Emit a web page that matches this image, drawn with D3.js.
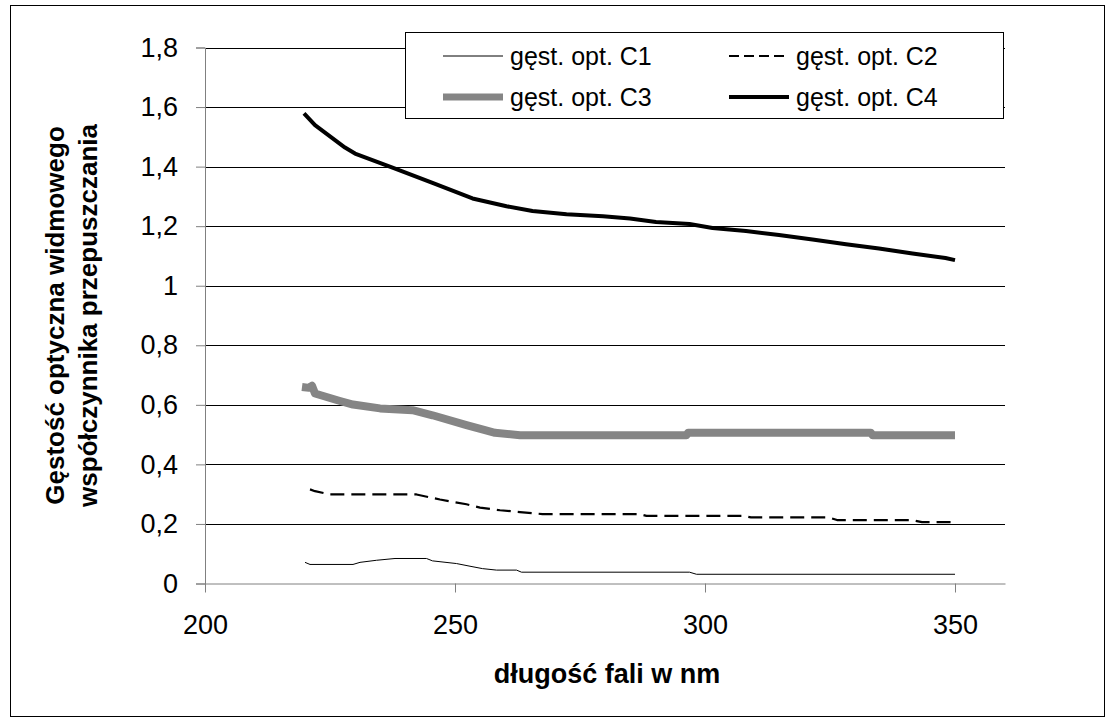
<!DOCTYPE html>
<html>
<head>
<meta charset="utf-8">
<script src="https://cdn.jsdelivr.net/npm/d3@7"></script>
<style>
  body { margin: 0; background: #fff; }
  text { font-family: "Liberation Sans", Arial, sans-serif; fill: #000; }
</style>
</head>
<body>
<div id="chart"></div>
<script>
(function () {
  const WIDTH = 1115;
  const HEIGHT = 726;

  // [długość fali, gęstość optyczna]
  const c1 = [[220,0.071],[221,0.064],[229.6,0.064],[231,0.071],[234.3,0.078],[238,0.084],[244.3,0.084],
    [245.5,0.076],[250.3,0.067],[253,0.058],[255.5,0.050],[258.3,0.045],[262.3,0.045],[263.3,0.038],
    [296.9,0.038],[298.3,0.031],[350,0.031]];
  const c2 = [[221,0.316],[222,0.310],[225,0.299],[242.3,0.299],[247,0.282],[252.3,0.266],[255,0.255],
    [259,0.246],[263,0.240],[267.5,0.233],[287,0.233],[288.3,0.227],[307.8,0.227],[309.2,0.222],
    [324.8,0.222],[326.4,0.213],[341.4,0.213],[343.4,0.206],[350,0.206]];
  const c3 = [[219.4,0.660],[220.8,0.657],[221.4,0.664],[222,0.638],[227,0.613],[229.6,0.601],[235,0.588],
    [241.5,0.582],[245.5,0.565],[252.3,0.532],[256,0.515],[258,0.506],[263,0.498],[296.3,0.498],
    [296.6,0.506],[333.2,0.506],[333.5,0.498],[350,0.498]];
  const c4 = [[219.8,1.579],[222,1.539],[228,1.464],[230,1.444],[237.5,1.397],[245.5,1.345],[253.5,1.293],
    [260.3,1.267],[265.5,1.251],[272.3,1.240],[279.6,1.233],[285,1.226],[290.2,1.214],[296.9,1.207],
    [301.5,1.194],[308.2,1.184],[314.8,1.170],[321.5,1.155],[328.2,1.139],[334.8,1.125],[341.5,1.108],
    [348.1,1.093],[350,1.086]];

  const xTicks = [200, 250, 300, 350];
  const yTicks = [0, 0.2, 0.4, 0.6, 0.8, 1, 1.2, 1.4, 1.6, 1.8];
  const seriesNames = ["gęst. opt. C1", "gęst. opt. C2", "gęst. opt. C3", "gęst. opt. C4"];

  // styl każdej serii
  const styles = [
    { stroke: "#000", width: 1, dash: null, legendDash: null },
    { stroke: "#000", width: 2.2, dash: "14,7", legendDash: "10,5" },
    { stroke: "#858585", width: 8, dash: null, legendDash: null },
    { stroke: "#000", width: 4, dash: null, legendDash: null }
  ];

  const margin = { left: 205, right: 110, top: 47.5, bottom: 142.5 };

  const x = d3.scaleLinear().domain([200, 360]).range([margin.left, WIDTH - margin.right]);
  const y = d3.scaleLinear().domain([0, 1.8]).range([HEIGHT - margin.bottom, margin.top]);

  const svg = d3.select("#chart").append("svg")
    .attr("width", WIDTH)
    .attr("height", HEIGHT);

  // ramka wykresu
  svg.append("rect")
    .attr("x", 10.5).attr("y", 5.5)
    .attr("width", 1094).attr("height", 711)
    .attr("fill", "#fff").attr("stroke", "#000").attr("stroke-width", 1);

  // linie siatki
  svg.append("g")
    .selectAll("line")
    .data(yTicks.filter(d => d > 0))
    .join("line")
    .attr("x1", x(200)).attr("x2", x(360))
    .attr("y1", d => Math.round(y(d)) + 0.5).attr("y2", d => Math.round(y(d)) + 0.5)
    .attr("stroke", "#000").attr("stroke-width", 1);

  // oś Y
  const yAxis = svg.append("g")
    .attr("transform", `translate(${x(200)},0)`)
    .call(d3.axisLeft(y).tickValues(yTicks).tickSize(9).tickPadding(18)
      .tickFormat(d => d3.format("")(+d.toFixed(1)).replace(".", ",")));
  yAxis.select(".domain").attr("stroke", "#808080");
  yAxis.selectAll(".tick line").attr("stroke", "#808080");
  yAxis.selectAll(".tick text")
    .style("font-size", "27px")
    .attr("fill", "#000");

  // oś X
  const xAxis = svg.append("g")
    .attr("transform", `translate(0,${y(0)})`)
    .call(d3.axisBottom(x).tickValues(xTicks).tickSize(9).tickPadding(22).tickSizeOuter(0));
  xAxis.select(".domain").attr("stroke", "#808080");
  xAxis.selectAll(".tick line").attr("stroke", "#808080");
  xAxis.selectAll(".tick text")
    .style("font-size", "27px")
    .attr("fill", "#000");

  // serie
  const line = d3.line().x(d => x(d[0])).y(d => y(d[1]));
  const allSeries = [c1, c2, c3, c4];
  allSeries.forEach((s, i) => {
    svg.append("path")
      .datum(s)
      .attr("d", line)
      .attr("fill", "none")
      .attr("stroke", styles[i].stroke)
      .attr("stroke-width", styles[i].width)
      .attr("stroke-dasharray", styles[i].dash)
      .attr("stroke-linejoin", "round");
  });

  // tytuły osi
  svg.append("text")
    .attr("x", (x(200) + x(360)) / 2 + 2)
    .attr("y", 683)
    .attr("text-anchor", "middle")
    .style("font-size", "27px")
    .style("font-weight", "bold")
    .text("długość fali w nm");

  const yTitle = ["Gęstość optyczna widmowego", "współczynnika przepuszczania"];
  yTitle.forEach((t, i) => {
    svg.append("text")
      .attr("transform", `translate(${64 + i * 33},${(y(0) + y(1.8)) / 2}) rotate(-90)`)
      .attr("text-anchor", "middle")
      .style("font-size", "26px")
      .style("font-weight", "bold")
      .text(t);
  });

  // legenda
  const legend = svg.append("g");
  legend.append("rect")
    .attr("x", 405.5).attr("y", 32.5)
    .attr("width", 598).attr("height", 86)
    .attr("fill", "#fff").attr("stroke", "#000").attr("stroke-width", 1);

  const legendPos = [
    { lx: 443, ly: 56 }, { lx: 729, ly: 56 },
    { lx: 443, ly: 97 }, { lx: 729, ly: 97 }
  ];
  seriesNames.forEach((name, i) => {
    const p = legendPos[i];
    legend.append("line")
      .attr("x1", p.lx).attr("x2", p.lx + 60)
      .attr("y1", p.ly).attr("y2", p.ly)
      .attr("stroke", styles[i].stroke)
      .attr("stroke-width", styles[i].width === 8 ? 7 : styles[i].width)
      .attr("stroke-dasharray", styles[i].legendDash);
    legend.append("text")
      .attr("x", p.lx + 67)
      .attr("y", p.ly + 9)
      .style("font-size", "25px")
      .text(name);
  });
})();
</script>
</body>
</html>
